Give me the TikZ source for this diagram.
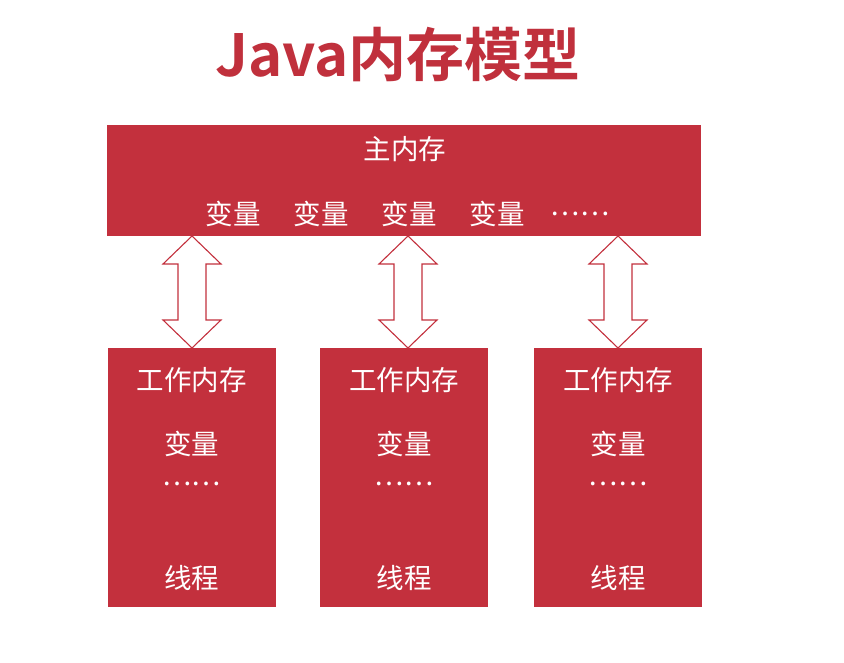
\documentclass[tikz,border=0pt]{standalone}
\usepackage{fontspec}
\newfontfamily\cjk{Noto Sans CJK SC}
\newfontfamily\cjkbold{Noto Sans CJK SC Bold}
\definecolor{boxred}{RGB}{195,48,61}
\definecolor{titlered}{RGB}{192,48,60}
\begin{document}
\begin{tikzpicture}[x=1pt,y=-1pt,
  membox/.style={fill=boxred,draw=none,inner sep=0pt},
  lbl/.style={text=white,font=\cjk\fontsize{27.5}{30}\selectfont,inner sep=0pt,anchor=center},
  dbl/.style={draw=boxred,fill=white,line width=1.1pt,line join=miter}]
\useasboundingbox (0,0) rectangle (844,663);
\fill[white] (0,0) rectangle (844,663);
% title
\node[text=titlered,font=\cjkbold\fontsize{58}{62}\selectfont,inner sep=0pt] (title) at (398,55) {Java内存模型};
% main memory
\node[membox,minimum width=594pt,minimum height=111pt] (main) at (404,180.5) {};
\node[lbl] (mainlbl) at (405,149) {主内存};
\node[lbl] (v1) at (233,214) {变量};
\node[lbl] (v2) at (321,214) {变量};
\node[lbl] (v3) at (409,214) {变量};
\node[lbl] (v4) at (497,214) {变量};
\node[lbl] (v5) at (580,214) {……};
% working memories
\foreach \i/\cx in {1/191.5,2/404,3/618}{
  \node[membox,minimum width=168pt,minimum height=259pt] (w\i) at (\cx,477.5) {};
  \node[lbl] (w\i t) at (\cx,380) {工作内存};
  \node[lbl] (w\i v) at (\cx,444) {变量};
  \node[lbl] (w\i d) at (\cx,484) {……};
  \node[lbl] (w\i x) at (\cx,578) {线程};
}
% double arrows
\foreach \i/\ax in {1/192,2/408,3/618}{
  \coordinate (t\i) at (\ax,236);
  \coordinate (b\i) at (\ax,348);
  \draw[dbl] (t\i) -- ++(29,28) -- ++(-15,0) -- ++(0,56) -- ++(15,0) -- (b\i)
     -- ++(-29,-28) -- ++(15,0) -- ++(0,-56) -- ++(-15,0) -- cycle;
}
\end{tikzpicture}
\end{document}
